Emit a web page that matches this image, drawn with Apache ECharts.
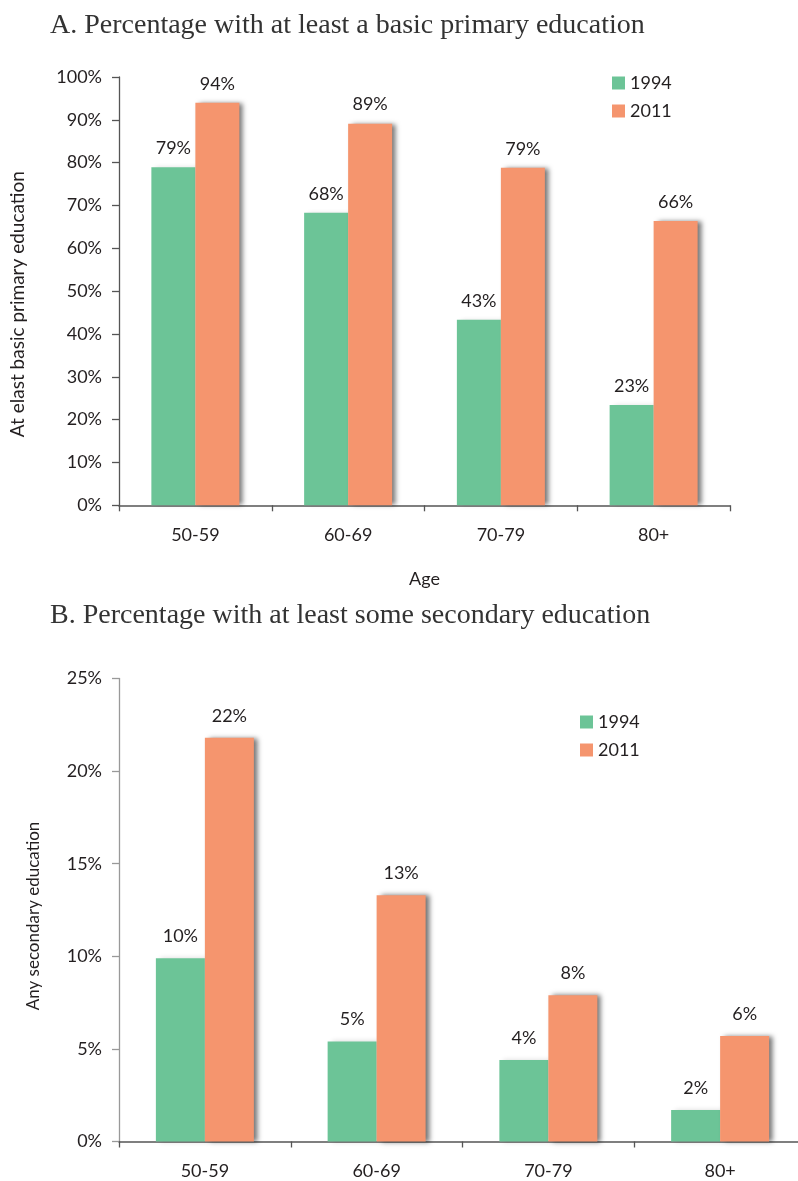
<!DOCTYPE html>
<html>
<head>
<meta charset="utf-8">
<script src="https://cdn.jsdelivr.net/npm/echarts@6/dist/echarts.min.js"></script>
<style>
  html, body { margin: 0; padding: 0; background: #ffffff; overflow: hidden; }
  #chart { width: 798px; height: 1181px; }
</style>
</head>
<body>
<div id="chart"></div>
<script>
// Age groups shared by both panels
const ageGroups = ['50-59', '60-69', '70-79', '80+'];

// Panel A: at least basic primary education (%)
const primary1994 = [78.9, 68.3, 43.3, 23.4];
const primary2011 = [94.0, 89.1, 78.8, 66.4];

// Panel B: at least some secondary education (%)
const secondary1994 = [9.9, 5.4, 4.4, 1.7];
const secondary2011 = [21.8, 13.3, 7.9, 5.7];

const seriesNames = ['1994', '2011'];
const panelTitles = [
  'A. Percentage with at least a basic primary education',
  'B. Percentage with at least some secondary education'
];
const yNames = ['At elast basic primary education', 'Any secondary education'];
const xNameA = 'Age';

const GREEN = '#6cc497';
const ORANGE = '#f5956e';
const TEXT = '#231f20';
const SANS = 'Lato, "Open Sans", sans-serif';
const SERIF = '"Liberation Serif", "DejaVu Serif", serif';
const FS = 18;

const chart = echarts.init(document.getElementById('chart'), null, { renderer: 'canvas' });

function pctLabel(p) { return Math.round(p.value) + '%'; }

function barSeries(name, data, idx, color, width, dist, shadow) {
  return {
    name: name,
    type: 'bar',
    xAxisIndex: idx,
    yAxisIndex: idx,
    data: data,
    barWidth: width,
    barGap: '0%',
    itemStyle: {
      color: color,
      shadowColor: shadow,
      shadowBlur: 5,
      shadowOffsetX: 4,
      shadowOffsetY: 0
    },
    label: {
      show: true,
      position: 'top',
      distance: dist,
      formatter: pctLabel,
      color: TEXT,
      fontFamily: SANS,
      fontSize: FS
    },
    emphasis: { disabled: true }
  };
}

function yAxisCfg(idx, max, interval, name, nameGap, nameSize, namePad, lineColor) {
  return {
    type: 'value',
    gridIndex: idx,
    min: 0,
    max: max,
    interval: interval,
    name: name,
    nameLocation: 'middle',
    nameGap: nameGap,
    nameTextStyle: { color: TEXT, fontFamily: SANS, fontSize: nameSize, padding: namePad },
    axisLine: { show: true, lineStyle: { color: lineColor, width: 1.3 } },
    axisTick: { show: true, length: 7, lineStyle: { color: lineColor, width: 1.3 } },
    axisLabel: { formatter: '{value}%', color: TEXT, fontFamily: SANS, fontSize: FS, margin: 17 },
    splitLine: { show: false }
  };
}

function xAxisCfg(idx, name) {
  return {
    type: 'category',
    gridIndex: idx,
    data: ageGroups,
    name: name,
    nameLocation: 'middle',
    nameGap: 65,
    nameTextStyle: { color: TEXT, fontFamily: SANS, fontSize: FS },
    axisLine: { show: true, lineStyle: { color: '#555555', width: 1.5 } },
    axisTick: { show: true, length: 6, lineStyle: { color: '#555555', width: 1.3 } },
    axisLabel: { color: TEXT, fontFamily: SANS, fontSize: FS, margin: 21 }
  };
}

function legendCfg(left, top) {
  return {
    left: left,
    top: top,
    padding: 0,
    orient: 'vertical',
    icon: 'rect',
    itemWidth: 13,
    itemHeight: 13,
    itemGap: 10,
    selectedMode: false,
    textStyle: { color: TEXT, fontFamily: SANS, fontSize: FS },
    data: seriesNames
  };
}

const option = {
  animation: false,
  backgroundColor: '#ffffff',
  title: [
    { text: panelTitles[0], left: 50, top: 12, padding: 0,
      textStyle: { color: '#333333', fontFamily: SERIF, fontSize: 28, fontWeight: 'normal' } },
    { text: panelTitles[1], left: 50, top: 602, padding: 0,
      textStyle: { color: '#333333', fontFamily: SERIF, fontSize: 28, fontWeight: 'normal' } }
  ],
  legend: [legendCfg(612, 74), legendCfg(580, 713)],
  grid: [
    { left: 119, right: 68, top: 77, bottom: 675.7, outerBoundsMode: 'none', containLabel: false },
    { left: 119, right: -8, top: 678.5, bottom: 39.5, outerBoundsMode: 'none', containLabel: false }
  ],
  xAxis: [xAxisCfg(0, xNameA), xAxisCfg(1, '')],
  yAxis: [
    yAxisCfg(0, 100, 10, yNames[0], 92, 19, [0, 26, 0, 0], '#555555'),
    yAxisCfg(1, 25, 5, yNames[1], 77, 17, [0, 12, 0, 0], '#999999')
  ],
  series: [
    barSeries(seriesNames[0], primary1994, 0, GREEN, 44, 10, 'rgba(0,0,0,0.15)'),
    barSeries(seriesNames[1], primary2011, 0, ORANGE, 44, 10, 'rgba(0,0,0,0.55)'),
    barSeries(seriesNames[0], secondary1994, 1, GREEN, 49, 13, 'rgba(0,0,0,0.15)'),
    barSeries(seriesNames[1], secondary2011, 1, ORANGE, 49, 13, 'rgba(0,0,0,0.55)')
  ]
};

chart.setOption(option);
</script>
</body>
</html>
